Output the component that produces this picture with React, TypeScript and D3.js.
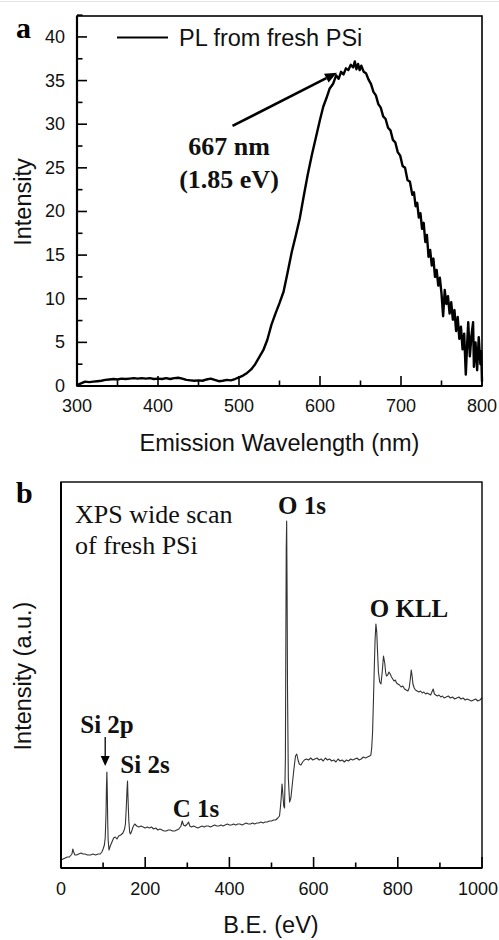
import React from "react";
import * as d3 from "d3";

// ---------- Panel a: PL spectrum ----------
const plWavelength = [
  300, 305, 310, 315, 320, 325, 330, 335, 340, 345, 350, 355, 360, 365, 370, 375, 380, 385, 390, 395,
  400, 405, 410, 415, 420, 425, 430, 435, 440, 445, 450, 455, 460, 465, 470, 475, 480, 485, 490, 495,
  500, 505, 510, 515, 520, 525, 530, 535, 540, 545, 550, 555, 560, 565, 570, 575, 580, 585, 590, 595,
  600, 604, 608, 612, 616, 620, 623, 626, 629, 632, 635, 638, 641, 643, 645, 647, 649, 651, 654, 657,
  660, 663, 666, 669, 672, 675, 678, 681, 684, 687, 690, 693, 696, 699, 702, 705, 708, 711, 714, 716,
  718, 720, 722, 724, 726, 728, 730, 732, 734, 736, 738, 740, 742, 744, 746, 748, 750, 752, 754, 756,
  758, 760, 762, 764, 766, 768, 770, 772, 774, 776, 778, 780, 782, 783, 785, 787, 789, 790, 792, 794,
  796, 798, 799, 800,
];
const plIntensity = [
  0.1, 0.3, 0.5, 0.45, 0.5, 0.55, 0.6, 0.7, 0.75, 0.8, 0.75, 0.85, 0.8, 0.85, 0.9, 0.85, 0.9, 0.85, 0.9, 0.8,
  0.85, 0.8, 0.9, 0.8, 0.9, 0.95, 0.85, 0.7, 0.65, 0.6, 0.65, 0.6, 0.75, 0.85, 0.7, 0.55, 0.6, 0.7, 0.65, 0.8,
  1.0, 1.2, 1.5, 1.9, 2.5, 3.3, 4.1, 5.3, 7.0, 8.3, 9.5, 10.8, 13.0, 15.3, 17.2, 19.2, 21.8, 24.3, 26.5, 28.5,
  30.5, 32.0, 33.0, 34.1, 34.6, 35.6, 35.2, 36.0, 35.7, 36.4, 36.2, 36.8, 36.5, 37.2, 36.3, 36.9, 36.2, 36.7, 36.0, 35.8,
  35.1, 34.6, 33.7, 33.3, 32.3, 31.9, 30.9, 30.6, 29.6, 29.3, 28.2, 27.9, 26.8, 26.4, 25.2, 25.0, 23.6, 23.4, 21.9, 22.2,
  20.6, 21.0, 19.3, 19.8, 18.0, 18.7, 16.5, 17.3, 14.8, 15.6, 13.8, 14.6, 12.5, 13.3, 11.5, 12.4, 10.6, 8.0, 11.0, 9.4,
  10.3, 8.3, 9.6, 7.6, 8.7, 6.3, 7.9, 5.4, 6.8, 4.2, 6.0, 1.3, 5.5, 7.3, 3.4, 5.8, 7.3, 2.2, 5.0, 1.8,
  5.6, 2.5, 4.0, 0.5,
];
const plXTicks = [300, 400, 500, 600, 700, 800];
const plXMinor = [350, 450, 550, 650, 750];
const plYTicks = [0, 5, 10, 15, 20, 25, 30, 35, 40];
const plYMinor = [2.5, 7.5, 12.5, 17.5, 22.5, 27.5, 32.5, 37.5, 42.5];

// ---------- Panel b: XPS wide scan ----------
const xpsEnergy = [
  0, 5, 10, 15, 20, 24, 26, 28, 30, 33, 37, 42, 48, 52, 57, 63, 70, 76, 82, 88,
  93, 97, 100, 103, 105, 107, 108, 109, 110, 111, 112, 114, 117, 121, 125, 129, 133, 137, 142, 147,
  151, 153, 155, 157, 158, 159, 161, 163, 165, 168, 171, 175, 180, 185, 190, 195, 200, 205, 210, 215,
  220, 225, 230, 235, 240, 245, 250, 255, 260, 265, 270, 275, 280, 285, 288, 291, 295, 300, 303, 306,
  310, 315, 320, 325, 330, 335, 340, 345, 350, 355, 360, 365, 370, 375, 380, 385, 390, 395, 400, 405,
  410, 415, 420, 425, 430, 435, 440, 445, 450, 455, 460, 465, 470, 475, 480, 485, 490, 495, 500, 505,
  510, 515, 519, 521, 523, 525, 527, 529, 531, 533, 534, 535, 536, 537, 538, 540, 543, 546, 549, 553,
  557, 560, 563, 566, 570, 574, 578, 583, 588, 593, 598, 603, 608, 613, 618, 623, 628, 633, 638, 643,
  648, 653, 658, 663, 668, 673, 678, 683, 688, 693, 698, 703, 708, 713, 718, 723, 728, 733, 736, 738,
  740, 742, 744, 746, 748, 750, 752, 754, 757, 760, 763, 766, 769, 771, 773, 776, 779, 782, 785, 788,
  791, 794, 797, 800, 804, 808, 812, 816, 820, 824, 827, 830, 832, 834, 836, 839, 842, 846, 850, 854,
  858, 862, 866, 870, 874, 878, 881, 884, 887, 890, 894, 898, 902, 906, 910, 915, 920, 925, 930, 935,
  940, 945, 950, 955, 960, 965, 970, 975, 980, 985, 990, 995, 1000,
];
const xpsIntensity = [
  8, 9, 10, 11, 11, 13, 14, 19, 16, 13, 13, 14, 15, 14, 14, 13, 13, 14, 13, 14,
  14, 16, 19, 23, 30, 55, 82, 96, 75, 45, 28, 18, 22, 26, 30, 31, 29, 32, 33, 35,
  39, 44, 60, 80, 87, 72, 48, 36, 34, 37, 41, 44, 42, 41, 42, 41, 40, 41, 40, 41,
  39, 40, 38, 39, 38, 37, 37, 38, 38, 37, 37, 38, 39, 42, 47, 43, 42, 44, 46, 42,
  41, 42, 41, 40, 41, 42, 41, 42, 42, 41, 42, 43, 42, 42, 43, 42, 43, 44, 43, 43,
  44, 43, 44, 44, 43, 44, 45, 44, 44, 45, 44, 45, 45, 46, 45, 46, 46, 47, 47, 48,
  48, 50, 52, 60, 70, 84, 74, 62, 60, 110, 220, 320, 347, 280, 180, 90, 66, 70, 82, 98,
  112, 114, 108, 104, 103, 106, 108, 109, 108, 110, 108, 109, 110, 108, 109, 107, 110, 108, 109, 107,
  108, 106, 109, 107, 108, 106, 108, 107, 109, 108, 109, 110, 108, 109, 111, 110, 111, 112, 113, 120,
  135, 165, 198, 228, 244, 236, 215, 196, 186, 184, 196, 212, 205, 196, 192, 193, 196, 194, 191, 189,
  187, 188, 185, 184, 183, 181, 182, 179, 178, 177, 180, 190, 198, 192, 184, 180, 178, 177, 176, 177,
  175, 176, 174, 175, 174, 173, 176, 179, 174, 173, 172, 173, 171, 172, 170, 171, 172, 170, 171, 169,
  170, 171, 169, 170, 168, 169, 168, 167, 168, 169, 167, 168, 170,
];
const xpsXTicks = [0, 200, 400, 600, 800, 1000];
const xpsXMinor = [100, 300, 500, 700, 900];

const sans = "'Liberation Sans', Arial, Helvetica, sans-serif";
const serif = "'Liberation Serif', 'Times New Roman', Times, serif";

export default function App() {
  // Panel a scales
  const xA = d3.scaleLinear().domain([300, 800]).range([77, 482]);
  const yA = d3.scaleLinear().domain([0, 42.4]).range([386, 16]);
  // Panel b scales
  const xB = d3.scaleLinear().domain([0, 1000]).range([61, 482]);
  const yB = d3.scaleLinear().domain([0, 386]).range([868, 482]);

  const plPts: [number, number][] = plWavelength.map((w, i) => [w, plIntensity[i]]);
  const xpsPts: [number, number][] = xpsEnergy.map((e, i) => [e, xpsIntensity[i]]);

  const lineA = d3
    .line<[number, number]>()
    .x((d) => xA(d[0]))
    .y((d) => yA(d[1]));
  const lineB = d3
    .line<[number, number]>()
    .x((d) => xB(d[0]))
    .y((d) => yB(d[1]));

  // arrow in panel a (from label toward peak)
  const ax1 = xA(492), ay1 = yA(29.8);
  const ax2 = xA(621), ay2 = yA(35.9);
  const ang = Math.atan2(ay2 - ay1, ax2 - ax1);
  const headLen = 12, headW = 5;
  const hx = ax2 - headLen * Math.cos(ang), hy = ay2 - headLen * Math.sin(ang);
  const head = `M${ax2},${ay2} L${hx + headW * Math.sin(ang)},${hy - headW * Math.cos(ang)} L${hx - headW * Math.sin(ang)},${hy + headW * Math.cos(ang)} Z`;

  // Si 2p arrow in panel b
  const sx = xB(105);
  const sy1 = 737, sy2 = 766;

  const [a0, a1] = xA.range();
  const [aB, aT] = yA.range();
  const [b0, b1] = xB.range();
  const [bB, bT] = yB.range();

  return (
    <svg
      width={499}
      height={940}
      style={{ position: "absolute", left: 0, top: 0, background: "#fff" }}
      xmlns="http://www.w3.org/2000/svg"
    >
      <rect x={0} y={0} width={499} height={940} fill="#fff" />
      <line x1={0} x2={499} y1={1.5} y2={1.5} stroke="#e4e4e4" strokeWidth={1} />

      {/* ---------------- Panel a ---------------- */}
      <text x={16} y={38} fontFamily={serif} fontWeight="bold" fontSize={30} fill="#000">a</text>

      {/* ticks */}
      {plXTicks.map((t) => (
        <line key={"ax" + t} x1={xA(t)} x2={xA(t)} y1={aB} y2={aB - 10} stroke="#000" strokeWidth={1.6} />
      ))}
      {plXMinor.map((t) => (
        <line key={"axm" + t} x1={xA(t)} x2={xA(t)} y1={aB} y2={aB - 5.5} stroke="#000" strokeWidth={1.6} />
      ))}
      {plYTicks.map((t) => (
        <line key={"ay" + t} x1={a0} x2={a0 + 10} y1={yA(t)} y2={yA(t)} stroke="#000" strokeWidth={1.6} />
      ))}
      {plYMinor.map((t) => (
        <line key={"aym" + t} x1={a0} x2={a0 + 5.5} y1={yA(t)} y2={yA(t)} stroke="#000" strokeWidth={1.6} />
      ))}

      {/* tick labels */}
      {plXTicks.map((t) => (
        <text key={"axl" + t} x={xA(t)} y={412} textAnchor="middle" fontFamily={sans} fontSize={18} fill="#111">
          {t}
        </text>
      ))}
      {plYTicks.map((t) => (
        <text key={"ayl" + t} x={65} y={yA(t) + 6} textAnchor="end" fontFamily={sans} fontSize={18} fill="#111">
          {t}
        </text>
      ))}

      {/* axis titles */}
      <text x={(a0 + a1) / 2} y={451} textAnchor="middle" fontFamily={sans} fontSize={23.5} fill="#111">
        Emission Wavelength (nm)
      </text>
      <text
        transform={`translate(31,${(aB + aT) / 2 + 1}) rotate(-90)`}
        textAnchor="middle"
        fontFamily={sans}
        fontSize={23.5}
        fill="#111"
      >
        Intensity
      </text>

      {/* curve */}
      <path d={lineA(plPts) || ""} fill="none" stroke="#000" strokeWidth={2.4} strokeLinejoin="round" />

      {/* frame */}
      <rect x={a0} y={aT} width={a1 - a0} height={aB - aT} fill="none" stroke="#000" strokeWidth={1.6} />
      <line x1={a0} x2={a0} y1={aT} y2={aB} stroke="#000" strokeWidth={2.2} />
      <line x1={a0} x2={a1} y1={aB} y2={aB} stroke="#000" strokeWidth={2.2} />

      {/* legend */}
      <line x1={117} x2={168} y1={37.5} y2={37.5} stroke="#000" strokeWidth={2.2} />
      <text x={179} y={46} fontFamily={sans} fontSize={23.5} fill="#111">PL from fresh PSi</text>

      {/* annotation */}
      <line x1={ax1} y1={ay1} x2={hx} y2={hy} stroke="#000" strokeWidth={2.6} />
      <path d={head} fill="#000" />
      <text x={229} y={155} textAnchor="middle" fontFamily={serif} fontWeight="bold" fontSize={26} fill="#111">
        667 nm
      </text>
      <text x={229} y={188} textAnchor="middle" fontFamily={serif} fontWeight="bold" fontSize={26} fill="#111">
        (1.85 eV)
      </text>

      {/* ---------------- Panel b ---------------- */}
      <text x={16} y={503} fontFamily={serif} fontWeight="bold" fontSize={30} fill="#000">b</text>

      {xpsXTicks.map((t) => (
        <line key={"bx" + t} x1={xB(t)} x2={xB(t)} y1={bB} y2={bB - 11} stroke="#000" strokeWidth={1.6} />
      ))}
      {xpsXMinor.map((t) => (
        <line key={"bxm" + t} x1={xB(t)} x2={xB(t)} y1={bB} y2={bB - 5.5} stroke="#000" strokeWidth={1.6} />
      ))}
      {xpsXTicks.map((t, i) => (
        <text
          key={"bxl" + t}
          x={i === xpsXTicks.length - 1 ? 498 : xB(t)}
          y={895}
          textAnchor={i === xpsXTicks.length - 1 ? "end" : "middle"}
          fontFamily={sans}
          fontSize={18}
          fill="#111"
        >
          {t}
        </text>
      ))}

      <text x={271} y={933} textAnchor="middle" fontFamily={sans} fontSize={23.5} fill="#111">
        B.E. (eV)
      </text>
      <text
        transform={`translate(31,676) rotate(-90)`}
        textAnchor="middle"
        fontFamily={sans}
        fontSize={23.5}
        fill="#111"
      >
        Intensity (a.u.)
      </text>

      <path d={lineB(xpsPts) || ""} fill="none" stroke="#333" strokeWidth={1.1} strokeLinejoin="round" />

      <rect x={b0} y={bT} width={b1 - b0} height={bB - bT} fill="none" stroke="#000" strokeWidth={1.4} />
      <line x1={b0} x2={b0} y1={bT} y2={bB} stroke="#000" strokeWidth={2} />
      <line x1={b0} x2={b1} y1={bB} y2={bB} stroke="#000" strokeWidth={2.2} />

      <text x={75} y={523} fontFamily={serif} fontSize={26} fill="#111">XPS wide scan</text>
      <text x={75} y={554} fontFamily={serif} fontSize={26} fill="#111">of fresh PSi</text>

      <text x={302} y={514} textAnchor="middle" fontFamily={serif} fontWeight="bold" fontSize={25} fill="#111">O 1s</text>
      <text x={409} y={617} textAnchor="middle" fontFamily={serif} fontWeight="bold" fontSize={25} fill="#111">O KLL</text>
      <text x={107} y={733} textAnchor="middle" fontFamily={serif} fontWeight="bold" fontSize={25} fill="#111">Si 2p</text>
      <text x={145} y={773} textAnchor="middle" fontFamily={serif} fontWeight="bold" fontSize={25} fill="#111">Si 2s</text>
      <text x={196} y={817} textAnchor="middle" fontFamily={serif} fontWeight="bold" fontSize={25} fill="#111">C 1s</text>

      <line x1={sx} x2={sx} y1={sy1} y2={sy2 - 9} stroke="#000" strokeWidth={1.3} />
      <path d={`M${sx},${sy2} L${sx - 4.5},${sy2 - 10} L${sx + 4.5},${sy2 - 10} Z`} fill="#000" />
    </svg>
  );
}
